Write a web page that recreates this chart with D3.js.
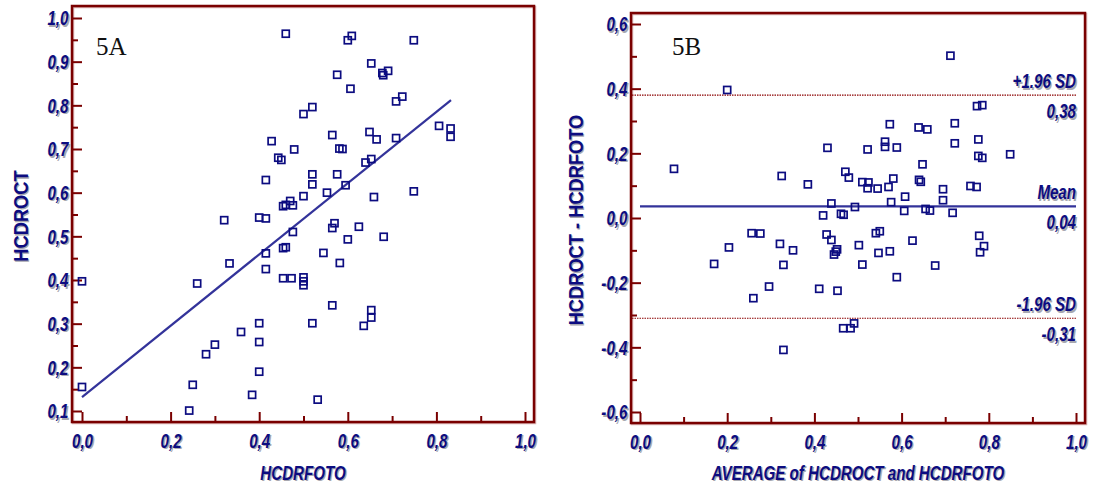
<!DOCTYPE html>
<meta charset="utf-8">
<script src="https://d3js.org/d3.v7.min.js"></script>
<style>
  body { margin: 0; background: #fff; }
</style>
<div id="chart"></div>
<script>

// ---- 5A : HCDRFOTO (x) vs HCDROCT (y) ----
var fotoA = [0, 0, 0.242, 0.250, 0.260, 0.280, 0.300, 0.321, 0.333, 0.359,
  0.384, 0.400, 0.400, 0.400, 0.400, 0.415, 0.415, 0.415, 0.415, 0.428,
  0.443, 0.450, 0.454, 0.460, 0.470, 0.476, 0.454, 0.460, 0.454, 0.473,
  0.460, 0.476, 0.479, 0.500, 0.520, 0.500, 0.500, 0.500, 0.500, 0.520,
  0.520, 0.520, 0.532, 0.545, 0.553, 0.565, 0.565, 0.565, 0.570, 0.576,
  0.576, 0.581, 0.588, 0.582, 0.595, 0.600, 0.609, 0.606, 0.600, 0.625,
  0.636, 0.640, 0.649, 0.653, 0.653, 0.653, 0.653, 0.659, 0.665, 0.678,
  0.680, 0.691, 0.681, 0.709, 0.723, 0.709, 0.749, 0.749, 0.806, 0.832, 0.832];
var octA = [0.397, 0.155, 0.101, 0.160, 0.392, 0.230, 0.252, 0.537, 0.438, 0.281,
  0.137, 0.301, 0.258, 0.190, 0.543, 0.541, 0.629, 0.461, 0.425, 0.718,
  0.680, 0.675, 0.569, 0.572, 0.581, 0.571, 0.473, 0.475, 0.404, 0.404,
  0.964, 0.510, 0.699, 0.780, 0.796, 0.592, 0.406, 0.397, 0.388, 0.642,
  0.619, 0.301, 0.126, 0.462, 0.600, 0.732, 0.342, 0.519, 0.530, 0.870,
  0.642, 0.701, 0.700, 0.439, 0.617, 0.949, 0.959, 0.838, 0.493, 0.522,
  0.295, 0.669, 0.739, 0.896, 0.677, 0.331, 0.314, 0.590, 0.722, 0.874,
  0.869, 0.879, 0.499, 0.809, 0.820, 0.725, 0.949, 0.603, 0.753, 0.747, 0.728];
// regression line end points
var regX = [0, 0.833];
var regY = [0.132, 0.812];

// ---- 5B : Bland-Altman ----
var avgB = [0.078, 0.200, 0.170, 0.204, 0.256, 0.276, 0.260, 0.296, 0.321, 0.351,
  0.325, 0.329, 0.329, 0.385, 0.411, 0.430, 0.439, 0.420, 0.428, 0.439,
  0.445, 0.449, 0.452, 0.453, 0.466, 0.483, 0.491, 0.461, 0.467, 0.471,
  0.479, 0.493, 0.502, 0.510, 0.510, 0.524, 0.522, 0.522, 0.545, 0.541,
  0.550, 0.547, 0.562, 0.562, 0.573, 0.570, 0.581, 0.576, 0.573, 0.589,
  0.589, 0.608, 0.606, 0.625, 0.639, 0.659, 0.648, 0.640, 0.644, 0.655,
  0.665, 0.677, 0.695, 0.695, 0.712, 0.717, 0.722, 0.722, 0.758, 0.772,
  0.773, 0.785, 0.776, 0.776, 0.785, 0.778, 0.789, 0.780, 0.849];
var diffB = [0.152, 0.396, -0.142, -0.091, -0.047, -0.048, -0.248, -0.212, -0.080, -0.100,
  0.130, -0.145, -0.408, 0.104, -0.219, 0.217, 0.045, 0.008, -0.051, -0.068,
  -0.113, -0.104, -0.097, -0.225, -0.341, -0.341, -0.326, 0.013, 0.010, 0.143,
  0.125, 0.034, -0.084, -0.144, 0.111, 0.110, 0.092, 0.212, 0.091, -0.047,
  -0.041, -0.108, 0.236, 0.220, 0.290, 0.096, 0.122, 0.049, -0.103, 0.218,
  -0.183, 0.066, 0.022, -0.070, 0.280, 0.274, 0.166, 0.118, 0.112, 0.028,
  0.023, -0.147, 0.089, 0.055, 0.502, 0.016, 0.293, 0.231, 0.099, 0.096,
  0.346, 0.349, 0.243, 0.192, 0.186, -0.055, -0.087, -0.106, 0.197];
var meanDiff = 0.036, upperSD = 0.38, lowerSD = -0.31;
var refLabels = ["+1.96 SD", "0,38", "Mean", "0,04", "-1.96 SD", "-0,31"];

// ticks
var xTicks = [0, 0.2, 0.4, 0.6, 0.8, 1.0];
var xMinor = [0.1, 0.3, 0.5, 0.7, 0.9];
var yTicksA = [0.1, 0.2, 0.3, 0.4, 0.5, 0.6, 0.7, 0.8, 0.9, 1.0];
var yMinorA = [0.15, 0.25, 0.35, 0.45, 0.55, 0.65, 0.75, 0.85, 0.95];
var yTicksB = [-0.6, -0.4, -0.2, 0, 0.2, 0.4, 0.6];
var yMinorB = [-0.5, -0.3, -0.1, 0.1, 0.3, 0.5];

var navy = "#0c0c80", red = "#7a0000", lineBlue = "#33339a";
var sans = "'Liberation Sans', Arial, sans-serif";

var loc = d3.formatLocale({decimal: ",", thousands: ".", grouping: [3], currency: ["", ""], minus: "-"});
var fmt = loc.format(".1f");

var svg = d3.select("#chart").append("svg")
  .attr("width", 1095).attr("height", 490);

function addShadow(sel) {
  sel.each(function() {
    var c = this.cloneNode(true);
    c.setAttribute("fill", "#a8a8b0");
    c.style.fill = "#a8a8b0";
    var t = this.getAttribute("transform") || "";
    c.setAttribute("transform", "translate(1.4,1.4) " + t);
    this.parentNode.insertBefore(c, this);
  });
}

// bold navy label, narrowed horizontally (Arial Narrow look)
function labelText(sel, size, italic, k) {
  sel.attr("fill", navy)
    .style("font-family", sans)
    .style("font-weight", "bold")
    .style("font-style", italic ? "italic" : "normal")
    .style("font-size", size + "px")
    .attr("transform", function() {
      return (this.getAttribute("transform") || "") + " scale(" + k + ",1)";
    });
  addShadow(sel);
}

function styleAxis(g) {
  g.select(".domain").remove();
  g.selectAll(".tick line").attr("stroke", red).attr("stroke-width", 2);
  labelText(g.selectAll(".tick text"), 21, true, 0.72);
}

function panel(o) {
  var x = d3.scaleLinear().domain([0, 1]).range([o.x0, o.x1]);
  var y = d3.scaleLinear().domain(o.yDom).range([o.yb, o.yt]);
  var fx0 = o.x0 - o.padL, fx1 = o.x1 + o.padR;
  var fy0 = o.yt - o.padT, fy1 = o.yb + o.padB;
  var g = svg.append("g");

  // frame
  g.append("rect")
    .attr("x", fx0).attr("y", fy0)
    .attr("width", fx1 - fx0).attr("height", fy1 - fy0)
    .attr("fill", "none").attr("stroke", "#d9b0b0").attr("stroke-width", 2.5)
    .attr("transform", "translate(1,1)");
  g.append("rect")
    .attr("x", fx0).attr("y", fy0)
    .attr("width", fx1 - fx0).attr("height", fy1 - fy0)
    .attr("fill", "none").attr("stroke", red).attr("stroke-width", 2.5);

  // x axis
  g.append("g").attr("transform", "translate(0," + fy1 + ")")
    .call(d3.axisBottom(x).tickValues(xTicks).tickFormat(fmt).tickSize(-10).tickPadding(11).tickSizeOuter(0))
    .call(styleAxis);
  g.append("g").attr("transform", "translate(0," + fy1 + ")")
    .call(d3.axisBottom(x).tickValues(xMinor).tickFormat("").tickSize(-6).tickSizeOuter(0))
    .call(styleAxis);

  // y axis
  g.append("g").attr("transform", "translate(" + fx0 + ",0)")
    .call(d3.axisLeft(y).tickValues(o.yTicks).tickFormat(fmt).tickSize(-10).tickPadding(5).tickSizeOuter(0))
    .call(styleAxis);
  g.append("g").attr("transform", "translate(" + fx0 + ",0)")
    .call(d3.axisLeft(y).tickValues(o.yMinor).tickFormat("").tickSize(-6).tickSizeOuter(0))
    .call(styleAxis);

  // axis titles
  var xt = g.append("text")
    .attr("transform", "translate(" + ((fx0 + fx1) / 2) + ",480)")
    .attr("text-anchor", "middle")
    .text(o.xTitle);
  labelText(xt, 21, true, 0.72);
  var yt = g.append("text")
    .attr("transform", "translate(" + o.yTitleX + "," + ((fy0 + fy1) / 2 + 2) + ") rotate(-90)")
    .attr("text-anchor", "middle")
    .text(o.yTitle);
  labelText(yt, 21, false, 0.87);

  // panel tag
  g.append("text")
    .attr("x", o.tagX).attr("y", 55)
    .style("font-family", "'Liberation Serif', 'Times New Roman', serif")
    .style("font-size", "25px")
    .attr("fill", "#111")
    .text(o.tag);

  return {g: g, x: x, y: y, fx0: fx0, fx1: fx1};
}

// ---------- 5A ----------
var A = panel({x0: 82, x1: 525, yb: 411, yt: 18, padL: 10, padR: 9, padT: 12, padB: 11,
  yDom: [0.1, 1.0], yTicks: yTicksA, yMinor: yMinorA,
  xTitle: "HCDRFOTO", yTitle: "HCDROCT", yTitleX: 28, tag: "5A", tagX: 96});

A.g.append("line")
  .attr("x1", A.x(regX[0])).attr("y1", A.y(regY[0]))
  .attr("x2", A.x(regX[1])).attr("y2", A.y(regY[1]))
  .attr("stroke", lineBlue).attr("stroke-width", 2.2);

A.g.append("g").selectAll("rect")
  .data(d3.range(fotoA.length))
  .enter().append("rect")
    .attr("x", function(i) { return A.x(fotoA[i]) - 3.5; })
    .attr("y", function(i) { return A.y(octA[i]) - 3.5; })
    .attr("width", 7).attr("height", 7)
    .attr("fill", "none").attr("stroke", navy).attr("stroke-width", 1.7);

// ---------- 5B ----------
var B = panel({x0: 640, x1: 1076, yb: 412, yt: 24, padL: 9, padR: 9, padT: 11, padB: 11,
  yDom: [-0.6, 0.6], yTicks: yTicksB, yMinor: yMinorB,
  xTitle: "AVERAGE of HCDROCT and HCDRFOTO", yTitle: "HCDROCT - HCDRFOTO", yTitleX: 583, tag: "5B", tagX: 672});

[upperSD, lowerSD].forEach(function(v) {
  B.g.append("line")
    .attr("x1", B.fx0 + 1).attr("x2", B.x(1))
    .attr("y1", B.y(v)).attr("y2", B.y(v))
    .attr("stroke", "#8b0000").attr("stroke-width", 1.2)
    .attr("stroke-dasharray", "1.5,1");
});
B.g.append("line")
  .attr("x1", B.x(0)).attr("x2", B.x(1))
  .attr("y1", B.y(meanDiff)).attr("y2", B.y(meanDiff))
  .attr("stroke", lineBlue).attr("stroke-width", 2.2);

B.g.append("g").selectAll("rect")
  .data(d3.range(avgB.length))
  .enter().append("rect")
    .attr("x", function(i) { return B.x(avgB[i]) - 3.5; })
    .attr("y", function(i) { return B.y(diffB[i]) - 3.5; })
    .attr("width", 7).attr("height", 7)
    .attr("fill", "none").attr("stroke", navy).attr("stroke-width", 1.7);

// labels on the reference lines
var refVals = [upperSD, upperSD, meanDiff, meanDiff, lowerSD, lowerSD];
var refLab = B.g.append("g").selectAll("text")
  .data(refLabels)
  .enter().append("text")
    .attr("transform", function(d, i) {
      return "translate(" + B.x(1) + "," + (B.y(refVals[i]) + (i % 2 === 0 ? -7 : 23)) + ")";
    })
    .attr("text-anchor", "end")
    .text(function(d) { return d; });
labelText(refLab, 21, true, 0.72);

</script>
